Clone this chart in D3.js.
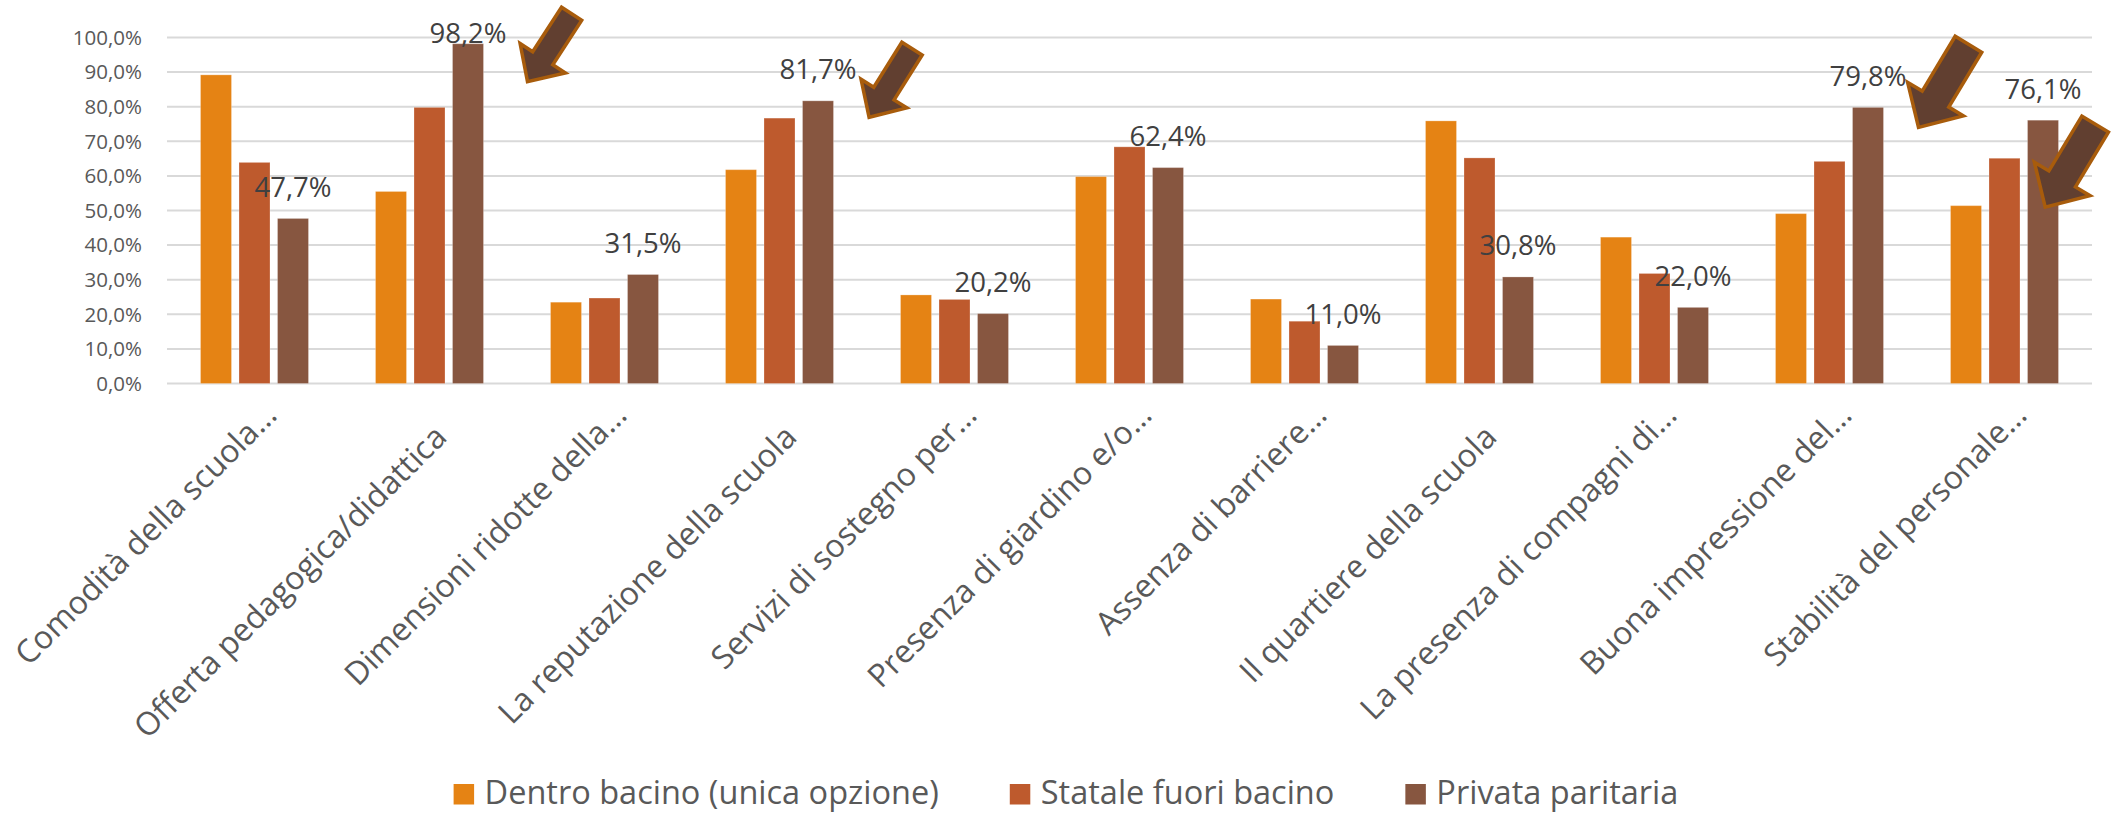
<!DOCTYPE html>
<html>
<head>
<meta charset="utf-8">
<script src="https://cdn.jsdelivr.net/npm/d3@7/dist/d3.min.js"></script>
<style>
  html, body { margin: 0; padding: 0; background: #ffffff; }
  svg { display: block; }
  text { font-family: "Open Sans", "Noto Sans", sans-serif; }
</style>
</head>
<body>
<svg id="chart" width="2114" height="814"></svg>
<script>
// ---- data ----
const categories = [
  "Comodità della scuola…",
  "Offerta pedagogica/didattica",
  "Dimensioni ridotte della…",
  "La reputazione della scuola",
  "Servizi di sostegno per…",
  "Presenza di giardino e/o…",
  "Assenza di barriere…",
  "Il quartiere della scuola",
  "La presenza di compagni di…",
  "Buona impressione del…",
  "Stabilità del personale…"
];
const seriesNames = ["Dentro bacino (unica opzione)", "Statale fuori bacino", "Privata paritaria"];
const dentroBacino = [89.2, 55.5, 23.5, 61.8, 25.6, 59.8, 24.4, 75.9, 42.3, 49.1, 51.4];
const stataleFuori = [63.9, 79.8, 24.7, 76.7, 24.3, 68.4, 18.0, 65.2, 31.8, 64.2, 65.1];
const privataParitaria = [47.7, 98.2, 31.5, 81.7, 20.2, 62.4, 11.0, 30.8, 22.0, 79.8, 76.1];
const yTicks = [0, 10, 20, 30, 40, 50, 60, 70, 80, 90, 100];
// categories whose "Privata paritaria" bar carries an arrow annotation
const arrowCategories = ["Offerta pedagogica/didattica", "La reputazione della scuola", "Buona impressione del…", "Stabilità del personale…"];

// ---- styling / layout ----
const colors = ["#E58314", "#BE5A2D", "#875640"];
const plot = { left: 167, right: 2092, top: 37.5, bottom: 383.5 };
const fmt = v => v.toFixed(1).replace(".", ",") + "%";

const svg = d3.select("#chart");
const values = [dentroBacino, stataleFuori, privataParitaria];

const x0 = d3.scaleBand().domain(categories).range([plot.left, plot.right]).padding(0);
const x1 = d3.scaleBand().domain(seriesNames).range([33.5, 141.5]).paddingInner(0.195).paddingOuter(0);
const y = d3.scaleLinear().domain([0, 100]).range([plot.bottom, plot.top]);

// gridlines
svg.append("g").selectAll("line").data(yTicks).join("line")
  .attr("x1", plot.left).attr("x2", plot.right)
  .attr("y1", d => y(d)).attr("y2", d => y(d))
  .attr("stroke", "#d9d9d9").attr("stroke-width", 2);

// y tick labels
svg.append("g").selectAll("text").data(yTicks).join("text")
  .attr("x", 142).attr("y", d => y(d) + 7.3)
  .attr("text-anchor", "end")
  .attr("font-size", "20.5px").attr("fill", "#595959")
  .text(d => fmt(d));

// bars
const groups = svg.append("g").selectAll("g").data(categories).join("g")
  .attr("transform", c => `translate(${x0(c)},0)`);
groups.selectAll("rect").data((c, i) => seriesNames.map((s, k) => ({ s, k, v: values[k][i] }))).join("rect")
  .attr("x", d => x1(d.s))
  .attr("width", x1.bandwidth())
  .attr("y", d => y(d.v))
  .attr("height", d => y(0) - y(d.v))
  .attr("fill", d => colors[d.k])
  .attr("stroke", "rgba(255,255,255,0.25)").attr("stroke-width", 1);

// data labels for "Privata paritaria"
svg.append("g").selectAll("text").data(categories).join("text")
  .attr("x", c => x0(c) + x1(seriesNames[2]) + x1.bandwidth() / 2)
  .attr("y", (c, i) => Math.max(y(privataParitaria[i]) - 21.5, y(100) + 5))
  .attr("text-anchor", "middle")
  .attr("font-size", "27.5px").attr("fill", "#404040")
  .text((c, i) => fmt(privataParitaria[i]));

// x category labels (rotated -45°)
svg.append("g").selectAll("text").data(categories).join("text")
  .attr("transform", c => {
    const cx = x0(c) + x0.bandwidth() / 2;
    const trunc = c.endsWith("…");
    const dx = trunc ? 24 : 19, yy = trunc ? 417 : 439;
    return `translate(${cx + dx},${yy}) rotate(-45)`;
  })
  .attr("text-anchor", "end")
  .attr("font-size", "32px").attr("fill", "#595959")
  .text(c => c);

// arrow annotations (block arrows pointing down-left to the bars)
function arrowPath(L, w, h, hl) {
  return `M0,${-w/2} L${L-hl},${-w/2} L${L-hl},${-h/2} L${L},0 L${L-hl},${h/2} L${L-hl},${w/2} L0,${w/2} Z`;
}
const arrowSpecs = [
  { dx: 44, dy: 38, L: 81, w: 24, h: 54, hl: 28, ang: 123 },
  { dx: 35.6, dy: 16.5, L: 81, w: 24, h: 54, hl: 28, ang: 122 },
  { dx: 35, dy: 20, L: 97, w: 31, h: 65, hl: 33, ang: 121 },
  { dx: -13.3, dy: 87, L: 97, w: 31, h: 65, hl: 33, ang: 121 }
];
svg.append("g").selectAll("path").data(arrowCategories).join("path")
  .attr("d", (c, j) => { const a = arrowSpecs[j]; return arrowPath(a.L, a.w, a.h, a.hl); })
  .attr("transform", (c, j) => {
    const a = arrowSpecs[j];
    const i = categories.indexOf(c);
    const bx = x0(c) + x1(seriesNames[2]) + x1.bandwidth();
    const by = y(privataParitaria[i]);
    return `translate(${bx + a.dx},${by + a.dy}) rotate(${a.ang}) translate(${-a.L},0)`;
  })
  .attr("fill", "#613F30").attr("stroke", "#A85C0C").attr("stroke-width", 3.5)
  .attr("stroke-linejoin", "miter");

// legend
const legend = svg.append("g");
const items = legend.selectAll("g").data(seriesNames).join("g");
items.append("rect").attr("width", 20.5).attr("height", 20.5).attr("y", 784)
  .attr("fill", (d, k) => colors[k]);
items.append("text").attr("x", 31).attr("y", 804)
  .attr("font-size", "32.5px").attr("fill", "#595959").text(d => d);
let widths = [];
items.each(function() { widths.push(31 + this.querySelector("text").getComputedTextLength()); });
const gap = 71;
const total = d3.sum(widths) + gap * (widths.length - 1);
let cursor = 1066 - total / 2;
items.attr("transform", (d, k) => { const t = `translate(${cursor},0)`; cursor += widths[k] + gap; return t; });
</script>
</body>
</html>
